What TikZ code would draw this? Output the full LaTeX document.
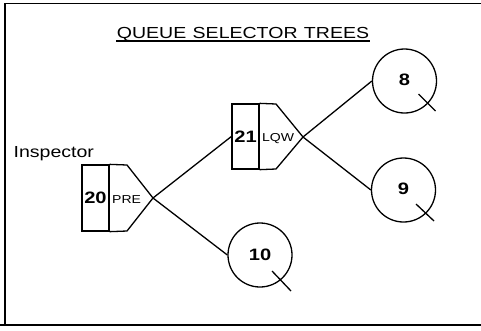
\documentclass[tikz,border=0pt]{standalone}
\usepackage{fontspec}
\setmainfont{Liberation Sans}[FakeStretch=1.22]
\begin{document}
\begin{tikzpicture}[x=1pt,y=-1pt, line width=1.3pt,
  cell/.style={draw, minimum width=27pt, minimum height=66pt, inner sep=0pt,
    font=\fontsize{16.5}{16.5}\selectfont\bfseries},
  circ/.style={draw, circle, minimum size=64pt, inner sep=0pt,
    font=\fontsize{16.5}{16.5}\selectfont\bfseries},
  small/.style={font=\fontsize{11.5}{11.5}\selectfont, inner sep=0pt, anchor=west},
  wire/.style={line width=1.3pt},
  tick/.style={line width=1.3pt}]
\useasboundingbox (0,0) rectangle (481,330);
% frame
\draw[line width=0.8pt] (5,3) -- (481,3);
\draw[line width=1.6pt] (5,3) -- (5,325);
\draw[line width=1.4pt] (0,325) -- (481,325);
% title
\node[anchor=base, inner sep=0pt, font=\fontsize{16}{16}\selectfont] (title) at (243,38)
  {QUEUE\hspace{0.4em}SELECTOR\hspace{0.4em}TREES};
\draw[line width=1.1pt] ([yshift=-3pt]title.base west) -- ([yshift=-3pt]title.base east);
% inspector label
\node[anchor=base west, inner sep=0pt, font=\fontsize{16}{16}\selectfont] (insp) at (13,157) {Inspector};
% box 20
\node[cell] (b20) at (95.5,198) {20};
\coordinate (tip20) at (153,198);
\draw (b20.north east) -- (127,165) -- (tip20) -- (127,231) -- (b20.south east);
\node[small] (pre) at (111.5,200) {PRE};
% box 21
\node[cell, minimum height=65pt] (b21) at (245.5,136.5) {21};
\coordinate (tip21) at (303,137);
\draw (b21.north east) -- (276,104) -- (tip21) -- (276,169) -- (b21.south east);
\node[small] (lqw) at (261.5,139) {LQW};
% circles
\node[circ] (n8) at (404.5,81) {\raisebox{2pt}{8}};
\node[circ] (n9) at (403.5,190) {\raisebox{3pt}{9}};
\node[circ] (n10) at (260,255) {10};
\draw[tick] ([shift={(14,13)}]n8.center) -- ([shift={(31,30)}]n8.center);
\draw[tick] ([shift={(12.5,14)}]n9.center) -- ([shift={(30.5,31)}]n9.center);
\draw[tick] ([shift={(12,16)}]n10.center) -- ([shift={(31,36)}]n10.center);
% connectors
\draw[wire] (tip20) -- (b21.west);
\draw[wire] (tip20) -- (n10.west);
\draw[wire] (tip21) -- (n8.west);
\draw[wire] (tip21) -- (n9.west);
\end{tikzpicture}
\end{document}
